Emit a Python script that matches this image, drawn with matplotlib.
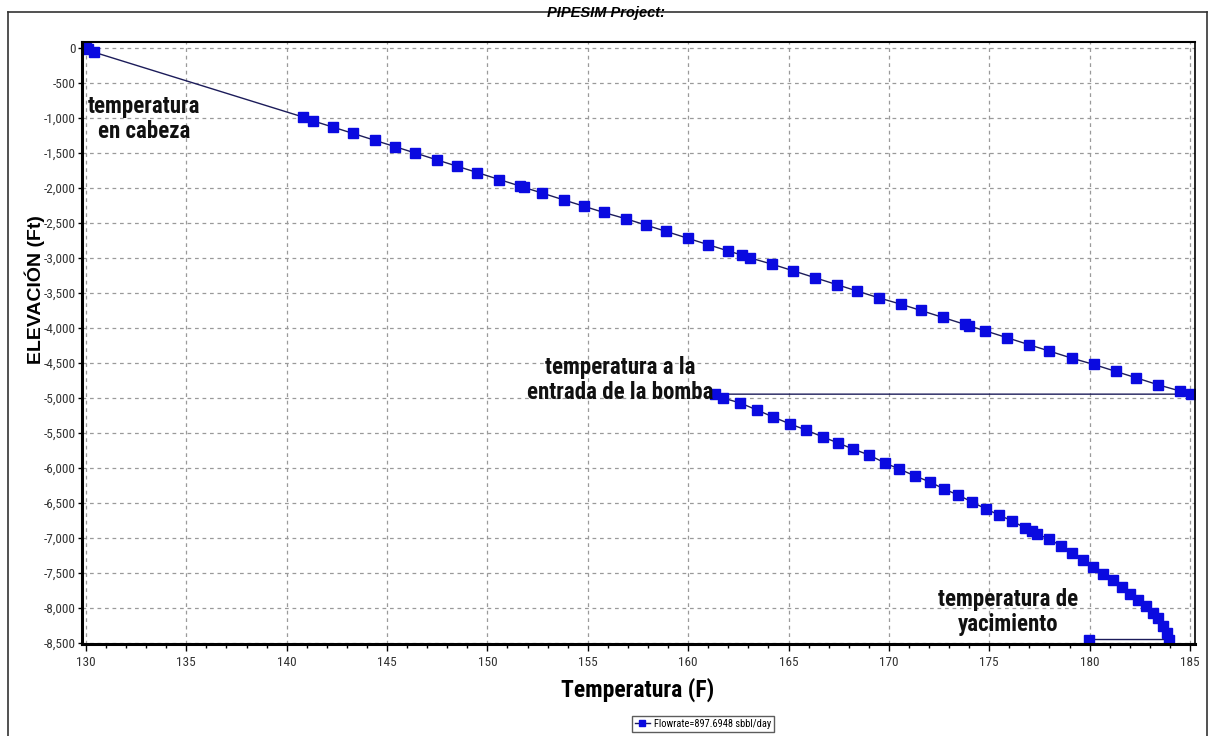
import numpy as np
import matplotlib
matplotlib.use('Agg')
import matplotlib.pyplot as plt
from matplotlib.ticker import MultipleLocator, FuncFormatter
from matplotlib.lines import Line2D

plt.rcParams['font.family'] = ['Liberation Sans', 'DejaVu Sans']
narrow = ['Roboto Condensed', 'Liberation Sans Narrow', 'Liberation Sans']

# temperature (F) and elevation (ft)
temp = [130.0, 130.1, 130.4,
        140.8, 141.3, 142.3, 143.3, 144.4, 145.4, 146.4, 147.5, 148.5, 149.5,
        150.6, 151.6, 151.8, 152.7, 153.8, 154.8, 155.8, 156.9, 157.9, 158.9,
        160.0, 161.0, 162.0, 162.7, 163.1, 164.2, 165.2, 166.3, 167.4, 168.4,
        169.5, 170.6, 171.6, 172.7, 173.8, 174.0, 174.8, 175.9, 177.0, 178.0,
        179.1, 180.2, 181.3, 182.3, 183.4, 184.5, 185.05,
        161.34, 161.74, 162.59, 163.43, 164.23, 165.08, 165.87, 166.72, 167.47,
        168.22, 169.01, 169.81, 170.51, 171.31, 172.05, 172.75, 173.45, 174.15,
        174.84, 175.49, 176.14, 176.79, 177.13, 177.38, 177.98, 178.58, 179.13,
        179.68, 180.17, 180.67, 181.17, 181.62, 182.02, 182.42, 182.82, 183.16,
        183.41, 183.66, 183.86, 183.95,
        179.95]
elev = [0, -10, -60,
        -985, -1040, -1130, -1220, -1320, -1410, -1500, -1600, -1690, -1780,
        -1880, -1970, -1990, -2070, -2170, -2260, -2350, -2440, -2530, -2620,
        -2720, -2810, -2900, -2960, -3000, -3090, -3180, -3280, -3380, -3470,
        -3570, -3660, -3750, -3850, -3950, -3970, -4040, -4140, -4240, -4330,
        -4430, -4520, -4620, -4710, -4810, -4900, -4945,
        -4945, -5000, -5071, -5171, -5271, -5371, -5457, -5557, -5643,
        -5729, -5814, -5929, -6014, -6114, -6200, -6300, -6386, -6486,
        -6586, -6671, -6757, -6857, -6900, -6943, -7014, -7114, -7214,
        -7314, -7414, -7514, -7600, -7700, -7800, -7886, -7971, -8071,
        -8143, -8257, -8357, -8450,
        -8450]

series_label = 'Flowrate=897.6948 sbbl/day'

fig = plt.figure(figsize=(12.09, 7.36), dpi=100)

# outer frame of the plot window
for xs, ys in [([8/1209, 8/1209], [0, 1 - 11.5/736]),
               ([8/1209, 1207/1209], [1 - 11.5/736, 1 - 11.5/736]),
               ([1207/1209, 1207/1209], [0, 1 - 11.5/736])]:
    fig.add_artist(Line2D(xs, ys, color='#333333', lw=1.2))

ax = fig.add_axes([82.3/1209, 1 - 644/736, (1195 - 82.3)/1209, (644 - 42.3)/736])

ax.plot(temp, elev, color='#1c1c5a', lw=1.0, marker='s', ms=7,
        markerfacecolor='#0a0ae0', markeredgecolor='#0a0ae0', label=series_label)

ax.set_xlim(129.82, 185.25)
ax.set_ylim(-8514, 81)

ax.xaxis.set_major_locator(MultipleLocator(5))
ax.xaxis.set_minor_locator(MultipleLocator(1))
ax.yaxis.set_major_locator(MultipleLocator(500))
ax.yaxis.set_major_formatter(FuncFormatter(lambda v, p: '{:,.0f}'.format(v)))

ax.tick_params(axis='x', which='major', length=5, width=1, pad=4,
               labelsize=9.5, labelcolor='#333333', direction='out')
ax.tick_params(axis='x', which='minor', length=3, width=1, direction='out')
ax.tick_params(axis='y', which='major', length=3, width=1, pad=2,
               labelsize=9.5, labelcolor='#333333', direction='out')
for lab in ax.get_xticklabels() + ax.get_yticklabels():
    lab.set_family(narrow)

ax.grid(True, which='major', color='#9a9a9a', lw=0.9, linestyle=(0, (3, 3)))
ax.set_axisbelow(True)

for side in ['left', 'bottom']:
    ax.spines[side].set_linewidth(2.2)
ax.spines['top'].set_linewidth(1.5)
ax.spines['right'].set_linewidth(1.2)

fig.text(606/1209, 1 - 13/736, 'PIPESIM Project:', ha='center', va='center',
         fontsize=10.5, fontweight='bold', fontstyle='italic')

fig.text(638/1209, 1 - 690/736, 'Temperatura (F)', ha='center', va='center',
         fontsize=17, fontweight='bold', family=narrow)
fig.text(35/1209, 1 - 290/736, 'ELEVACIÓN (Ft)', ha='center', va='center',
         rotation=90, fontsize=14, fontweight='bold')

note_kw = dict(ha='center', va='center', fontsize=16.5, fontweight='bold',
               multialignment='center', color='#111111', linespacing=1.15,
               family=narrow)
fig.text(144/1209, 1 - 119/736, 'temperatura\nen cabeza', **note_kw)
fig.text(620/1209, 1 - 380/736, 'temperatura a la\nentrada de la bomba', **note_kw)
fig.text(1008/1209, 1 - 612/736, 'temperatura de\nyacimiento', **note_kw)

leg = fig.legend(loc='upper left', bbox_to_anchor=(632/1209, 1 - 716/736),
                 frameon=True, fancybox=False, shadow=False,
                 handlelength=1.4, borderpad=0.3, handletextpad=0.4,
                 markerscale=0.7, borderaxespad=0, prop={'family': narrow, 'size': 7.5})
leg.get_frame().set_edgecolor('#333333')
leg.get_frame().set_linewidth(1.0)

fig.savefig('out.png', dpi=100)
